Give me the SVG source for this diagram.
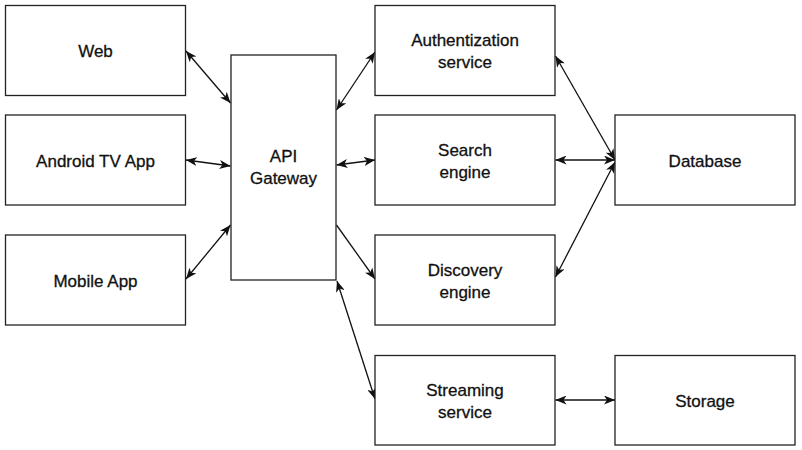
<svg xmlns="http://www.w3.org/2000/svg" width="802" height="450" viewBox="0 0 802 450">
<style>
.box{fill:#fff;stroke:#222;stroke-width:1.3}
.lbl{font-family:"Liberation Sans",Arial,sans-serif;font-size:17px;fill:#111;stroke:#111;stroke-width:0.3;text-anchor:middle}
.c{stroke:#111;stroke-width:1.3;fill:none}
</style>
<defs>
<marker id="ah" viewBox="0 0 11 9" refX="11" refY="4.5" markerWidth="11" markerHeight="9" markerUnits="userSpaceOnUse" orient="auto-start-reverse">
<path d="M0,0 L11,4.5 L0,9 L3,4.5 z" fill="#111"/>
</marker>
</defs>
<rect width="802" height="450" fill="#fff"/>
<g id="connectors">
<line class="c" x1="186" y1="51" x2="230.5" y2="103" marker-start="url(#ah)" marker-end="url(#ah)"/>
<line class="c" x1="186" y1="160" x2="230.5" y2="166" marker-start="url(#ah)" marker-end="url(#ah)"/>
<line class="c" x1="186" y1="279" x2="230.5" y2="225" marker-start="url(#ah)" marker-end="url(#ah)"/>
<line class="c" x1="336.5" y1="110" x2="375" y2="52" marker-start="url(#ah)" marker-end="url(#ah)"/>
<line class="c" x1="336.5" y1="165" x2="375" y2="160" marker-start="url(#ah)" marker-end="url(#ah)"/>
<line class="c" x1="336.5" y1="225" x2="375" y2="279" marker-end="url(#ah)"/>
<line class="c" x1="337" y1="281" x2="375" y2="399" marker-start="url(#ah)" marker-end="url(#ah)"/>
<line class="c" x1="555.5" y1="56" x2="615" y2="160" marker-start="url(#ah)" marker-end="url(#ah)"/>
<line class="c" x1="555.5" y1="160" x2="615" y2="160" marker-start="url(#ah)" marker-end="url(#ah)"/>
<line class="c" x1="555.5" y1="277" x2="615" y2="162" marker-start="url(#ah)" marker-end="url(#ah)"/>
<line class="c" x1="555.5" y1="400" x2="615" y2="400" marker-start="url(#ah)" marker-end="url(#ah)"/>
</g>
<g id="web"><rect class="box" x="5.5" y="5.5" width="180" height="90"/><text class="lbl" x="95.5" y="57">Web</text></g>
<g id="android"><rect class="box" x="5.5" y="115" width="180" height="90"/><text class="lbl" x="95.5" y="166.5">Android TV App</text></g>
<g id="mobile"><rect class="box" x="5.5" y="235" width="180" height="90"/><text class="lbl" x="95.5" y="286.5">Mobile App</text></g>
<g id="gateway"><rect class="box" x="231" y="55" width="105" height="225"/><text class="lbl" x="283.5" y="162">API</text><text class="lbl" x="283.5" y="184">Gateway</text></g>
<g id="auth"><rect class="box" x="375" y="5.5" width="180" height="90"/><text class="lbl" x="465" y="46">Authentization</text><text class="lbl" x="465" y="68">service</text></g>
<g id="search"><rect class="box" x="375" y="115" width="180" height="90"/><text class="lbl" x="465" y="155.5">Search</text><text class="lbl" x="465" y="177.5">engine</text></g>
<g id="discovery"><rect class="box" x="375" y="235" width="180" height="90"/><text class="lbl" x="465" y="275.5">Discovery</text><text class="lbl" x="465" y="297.5">engine</text></g>
<g id="streaming"><rect class="box" x="375" y="355.5" width="180" height="89.5"/><text class="lbl" x="465" y="395.5">Streaming</text><text class="lbl" x="465" y="417.5">service</text></g>
<g id="database"><rect class="box" x="615" y="115" width="180" height="90"/><text class="lbl" x="705" y="166.5">Database</text></g>
<g id="storage"><rect class="box" x="615" y="355.5" width="180" height="89.5"/><text class="lbl" x="705" y="406.5">Storage</text></g>
</svg>
